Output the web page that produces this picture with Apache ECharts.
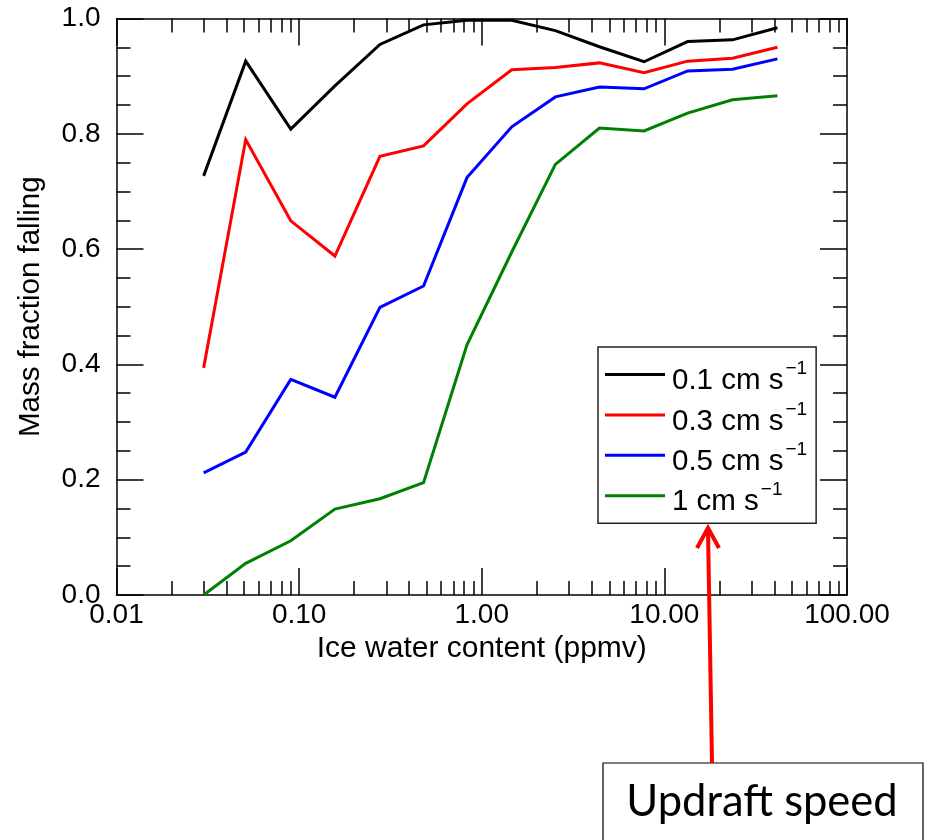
<!DOCTYPE html>
<html>
<head>
<meta charset="utf-8">
<script src="https://cdn.jsdelivr.net/npm/echarts@6/dist/echarts.min.js"></script>
<style>
  html, body { margin: 0; padding: 0; background: #fff; }
  #chart { width: 926px; height: 840px; }
</style>
</head>
<body>
<div id="chart"></div>
<script>
// Ice water content (ppmv) at which the fraction was evaluated
const iceWaterContent = [0.03, 0.051, 0.09, 0.157, 0.277, 0.48, 0.83, 1.46, 2.53, 4.41, 7.74, 13.4, 23.6, 41.6];

// Mass fraction falling, one list per updraft speed
const fall01 = [0.727, 0.926, 0.808, 0.883, 0.955, 0.989, 0.997, 0.997, 0.979, 0.951, 0.925, 0.960, 0.963, 0.984];
const fall03 = [0.394, 0.790, 0.649, 0.588, 0.761, 0.779, 0.852, 0.911, 0.915, 0.923, 0.906, 0.926, 0.931, 0.950];
const fall05 = [0.212, 0.248, 0.374, 0.343, 0.499, 0.536, 0.724, 0.812, 0.864, 0.881, 0.878, 0.909, 0.912, 0.930];
const fall1  = [0.000, 0.055, 0.094, 0.149, 0.167, 0.195, 0.434, 0.595, 0.747, 0.810, 0.805, 0.836, 0.859, 0.866];

const speedLabels = ['0.1', '0.3', '0.5', '1'];
const speedColors = ['#000000', '#ff0000', '#0000ff', '#008000'];
const fallSeries = [fall01, fall03, fall05, fall1];

// Axis tick positions
const xMajorTicks = [0.01, 0.1, 1, 10, 100];
const xMinorMultipliers = [2, 3, 4, 5, 6, 7, 8, 9];
const yTicks = [0.0, 0.2, 0.4, 0.6, 0.8, 1.0];

// minor ticks at 2..9 × each decade, placed on a helper axis in log10 units
const xMinorLog = [];
for (let d = 0; d < xMajorTicks.length - 1; d++) {
  xMinorMultipliers.forEach(m => xMinorLog.push(Math.log10(xMajorTicks[d] * m)));
}

const FONT = 'Liberation Sans, Arial, Helvetica, sans-serif';
const AXIS_COLOR = '#000';

const chart = echarts.init(document.getElementById('chart'), null, { renderer: 'canvas' });

function logAxis(position, showLabels) {
  return {
    type: 'log',
    logBase: 10,
    position: position,
    min: xMajorTicks[0],
    max: xMajorTicks[xMajorTicks.length - 1],
    name: showLabels ? 'Ice water content (ppmv)' : '',
    nameLocation: 'middle',
    nameGap: 36,
    nameTextStyle: { fontFamily: FONT, fontSize: 30, color: '#000' },
    axisLine: { show: true, onZero: false, lineStyle: { color: AXIS_COLOR, width: 1.5 } },
    axisTick: { show: true, inside: true, length: 27, lineStyle: { color: AXIS_COLOR, width: 1.5 } },
    axisLabel: {
      show: showLabels, margin: 6, fontFamily: FONT, fontSize: 28, color: '#000',
      formatter: v => Number(v).toFixed(2)
    },
    splitLine: { show: false }
  };
}

function minorXAxis(position) {
  return {
    type: 'value',
    position: position,
    min: Math.log10(xMajorTicks[0]),
    max: Math.log10(xMajorTicks[xMajorTicks.length - 1]),
    axisLine: { show: false, onZero: false },
    axisTick: { show: true, inside: true, length: 14, customValues: xMinorLog,
      lineStyle: { color: AXIS_COLOR, width: 1.5 } },
    axisLabel: { show: false },
    splitLine: { show: false }
  };
}

function yAxis(position, showLabels) {
  return {
    type: 'value',
    position: position,
    min: yTicks[0],
    max: yTicks[yTicks.length - 1],
    interval: 0.2,
    name: showLabels ? 'Mass fraction falling' : '',
    nameLocation: 'middle',
    nameGap: 71,
    nameTextStyle: { fontFamily: FONT, fontSize: 29.5, color: '#000' },
    axisLine: { show: true, onZero: false, lineStyle: { color: AXIS_COLOR, width: 1.5 } },
    axisTick: { show: true, inside: true, length: 27, lineStyle: { color: AXIS_COLOR, width: 1.5 } },
    minorTick: { show: true, splitNumber: 4, length: 14, lineStyle: { color: AXIS_COLOR, width: 1.5 } },
    axisLabel: {
      show: showLabels, margin: 16, fontFamily: FONT, fontSize: 28, color: '#000',
      formatter: v => Number(v).toFixed(1)
    },
    splitLine: { show: false },
    minorSplitLine: { show: false }
  };
}

const series = fallSeries.map((vals, i) => ({
  name: speedLabels[i],
  type: 'line',
  xAxisIndex: 0,
  yAxisIndex: 0,
  data: iceWaterContent.map((x, j) => [x, vals[j]]),
  showSymbol: false,
  symbol: 'none',
  clip: false,
  lineStyle: { color: speedColors[i], width: 3, join: 'miter' },
  itemStyle: { color: speedColors[i] },
  z: 3
}));

const option = {
  backgroundColor: '#fff',
  animation: false,
  grid: { left: 116.5, right: 79, top: 18.5, bottom: 245, containLabel: false },
  xAxis: [logAxis('bottom', true), logAxis('top', false), minorXAxis('bottom'), minorXAxis('top')],
  yAxis: [yAxis('left', true), yAxis('right', false)],
  legend: {
    orient: 'vertical',
    left: 598,
    top: 347,
    itemWidth: 60,
    itemHeight: 3,
    itemGap: -2.6,
    icon: 'rect',
    padding: [6, 9, 6, 7],
    backgroundColor: '#fff',
    borderColor: '#222',
    borderWidth: 1.5,
    borderRadius: 0,
    data: speedLabels,
    formatter: name => '{t|' + name + ' cm s}{sup|\u22121}',
    textStyle: {
      fontFamily: FONT, color: '#000', fontSize: 29.5,
      rich: {
        t: { fontFamily: FONT, fontSize: 29.5, lineHeight: 40, padding: [13, 0, 0, 2], color: '#000' },
        sup: { fontFamily: FONT, fontSize: 19, lineHeight: 15, padding: [5, 0, 0, 2], verticalAlign: 'top', color: '#000' }
      }
    }
  },
  series: series,
  graphic: [
    {
      type: 'rect',
      shape: { x: 603, y: 763, width: 320, height: 100 },
      style: { fill: '#fff', stroke: '#000', lineWidth: 1.2 },
      z: 10
    },
    {
      type: 'text',
      x: 762, y: 802,
      style: {
        text: 'Updraft speed', fontFamily: 'Lato, Open Sans, sans-serif', fontSize: 43.5,
        fill: '#000', align: 'center', verticalAlign: 'middle'
      },
      z: 11
    },
    {
      type: 'line',
      shape: { x1: 712, y1: 763, x2: 708, y2: 530 },
      style: { stroke: '#ff0000', lineWidth: 4 },
      z: 10
    },
    {
      type: 'polyline',
      shape: { points: [[697, 548], [708, 528], [719, 548]] },
      style: { stroke: '#ff0000', lineWidth: 4, lineJoin: 'miter', fill: null },
      z: 10
    }
  ]
};

chart.setOption(option);
</script>
</body>
</html>
